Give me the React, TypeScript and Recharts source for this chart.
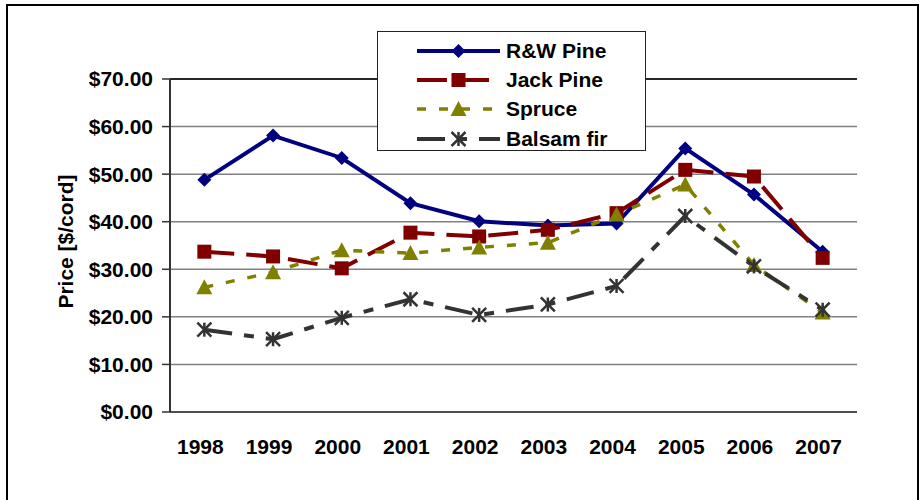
import { CartesianGrid, Legend, Line, LineChart, ReferenceLine, XAxis, YAxis } from 'recharts';

const years = ['1998', '1999', '2000', '2001', '2002', '2003', '2004', '2005', '2006', '2007'];
const rwPine = [48.8, 58.1, 53.4, 43.9, 40.1, 39.2, 39.6, 55.4, 45.7, 33.7];
const jackPine = [33.7, 32.7, 30.2, 37.7, 36.9, 38.3, 41.8, 50.9, 49.5, 32.4];
const spruce = [26.2, 29.4, 34.0, 33.4, 34.6, 35.6, 41.5, 47.8, 30.9, 20.9];
const balsamFir = [17.3, 15.3, 19.8, 23.7, 20.4, 22.6, 26.5, 41.2, 30.6, 21.5];
const yTicks = [0, 10, 20, 30, 40, 50, 60, 70];
// category boundaries (Excel puts the x ticks between the years)
const boundaryTicks = years.map((_, i) => i).concat(years.length);

const FONT = '"Liberation Sans", Arial, sans-serif';

const data = years.map((year, i) => ({
  year,
  rw: rwPine[i],
  jack: jackPine[i],
  spruce: spruce[i],
  balsam: balsamFir[i],
}));

type MarkerKind = 'diamond' | 'square' | 'triangle' | 'star';

function Marker({ kind, cx, cy, color }: { kind: MarkerKind; cx: number; cy: number; color: string }) {
  if (cx == null || cy == null) return null;
  const r = 7;
  switch (kind) {
    case 'diamond':
      return <polygon points={`${cx},${cy - r} ${cx + r},${cy} ${cx},${cy + r} ${cx - r},${cy}`} fill={color} />;
    case 'square':
      return <rect x={cx - r} y={cy - r} width={r * 2} height={r * 2} fill={color} />;
    case 'triangle':
      return <polygon points={`${cx},${cy - r - 1} ${cx + r + 1},${cy + r} ${cx - r - 1},${cy + r}`} fill={color} />;
    default:
      return (
        <g stroke={color} strokeWidth={2.5}>
          <line x1={cx} y1={cy - r} x2={cx} y2={cy + r} />
          <line x1={cx - r} y1={cy - r} x2={cx + r} y2={cy + r} />
          <line x1={cx - r} y1={cy + r} x2={cx + r} y2={cy - r} />
        </g>
      );
  }
}

const SERIES: { key: string; name: string; color: string; dash?: string; width: number; marker: MarkerKind }[] = [
  { key: 'rw', name: 'R&W Pine', color: '#000080', width: 4, marker: 'diamond' },
  { key: 'jack', name: 'Jack Pine', color: '#800000', dash: '30 12', width: 4, marker: 'square' },
  { key: 'spruce', name: 'Spruce', color: '#808000', dash: '9 13', width: 3.5, marker: 'triangle' },
  { key: 'balsam', name: 'Balsam fir', color: '#333333', dash: '28 12 10 12', width: 4, marker: 'star' },
];

function LegendBox() {
  return (
    <div
      style={{
        boxSizing: 'border-box',
        width: 269,
        height: 120,
        border: '1.5px solid #222',
        background: '#fff',
        paddingTop: 4,
        fontFamily: FONT,
        fontWeight: 'bold',
        fontSize: 21,
      }}
    >
      {SERIES.map((s) => (
        <div key={s.key} style={{ display: 'flex', alignItems: 'center', height: 29.3 }}>
          <svg width={83} height={18} style={{ marginLeft: 39, marginRight: 6 }}>
            <line x1={0} y1={9} x2={83} y2={9} stroke={s.color} strokeWidth={s.width} strokeDasharray={s.dash} />
            <Marker kind={s.marker} cx={41.5} cy={9} color={s.color} />
          </svg>
          <span>{s.name}</span>
        </div>
      ))}
    </div>
  );
}

function YearTick(props: any) {
  const { x, y, payload } = props;
  return (
    <text x={Number(x) - 4} y={Number(y) + 42} textAnchor="middle" fontFamily={FONT} fontWeight="bold" fontSize={21} fill="#000">
      {payload.value}
    </text>
  );
}

function YLabel(props: any) {
  const vb = props.viewBox;
  const cx = vb.x + 15;
  const cy = vb.y + vb.height / 2 - 4;
  return (
    <text
      x={cx}
      y={cy}
      transform={`rotate(-90 ${cx} ${cy})`}
      textAnchor="middle"
      dominantBaseline="central"
      fontFamily={FONT}
      fontWeight="bold"
      fontSize={21}
      fill="#000"
    >
      Price [$/cord]
    </text>
  );
}

export default function App() {
  return (
    <div
      style={{
        position: 'absolute',
        left: 6,
        top: 4,
        width: 913,
        height: 520,
        boxSizing: 'border-box',
        border: '2px solid #000',
        background: '#fff',
      }}
    >
      <LineChart width={909} height={500} data={data} margin={{ top: 73, right: 60, bottom: 44, left: 42 }}>
        <CartesianGrid vertical={false} stroke="#808080" strokeWidth={1.5} />
        <ReferenceLine y={70} stroke="#000" strokeWidth={1.5} />
        <XAxis
          xAxisId="bounds"
          type="number"
          domain={[0, years.length]}
          ticks={boundaryTicks}
          interval={0}
          height={0}
          tick={false}
          tickSize={8}
          tickLine={{ stroke: '#333', strokeWidth: 1.5 }}
          axisLine={false}
        />
        <XAxis
          dataKey="year"
          scale="band"
          height={50}
          tickLine={false}
          tickSize={0}
          tickMargin={0}
          interval={0}
          axisLine={{ stroke: '#333', strokeWidth: 1.5 }}
          tick={<YearTick />}
        />
        <YAxis
          width={120}
          domain={[0, 70]}
          ticks={yTicks}
          tickSize={8}
          tickMargin={9}
          tickFormatter={(v: number) => `$${v.toFixed(2)}`}
          tick={{ fontFamily: FONT, fontWeight: 'bold', fontSize: 21, fill: '#000' }}
          tickLine={{ stroke: '#333', strokeWidth: 1.5 }}
          axisLine={{ stroke: '#333', strokeWidth: 2 }}
          label={<YLabel />}
        />
        <YAxis
          yAxisId="right"
          orientation="right"
          width={0}
          domain={[0, 70]}
          tick={false}
          tickLine={false}
          axisLine={{ stroke: '#808080', strokeWidth: 2 }}
        />
        <Legend
          layout="vertical"
          align="center"
          verticalAlign="middle"
          content={() => <LegendBox />}
          wrapperStyle={{ position: 'absolute', left: 369, top: 25, width: 269, height: 120 }}
        />
        {SERIES.map((s) => (
          <Line
            key={s.key}
            dataKey={s.key}
            name={s.name}
            stroke={s.color}
            strokeWidth={s.width}
            strokeDasharray={s.dash}
            isAnimationActive={false}
            activeDot={false}
            dot={(p: any) => <Marker key={`${s.key}-${p.index}`} kind={s.marker} cx={p.cx} cy={p.cy} color={s.color} />}
          />
        ))}
      </LineChart>
    </div>
  );
}
